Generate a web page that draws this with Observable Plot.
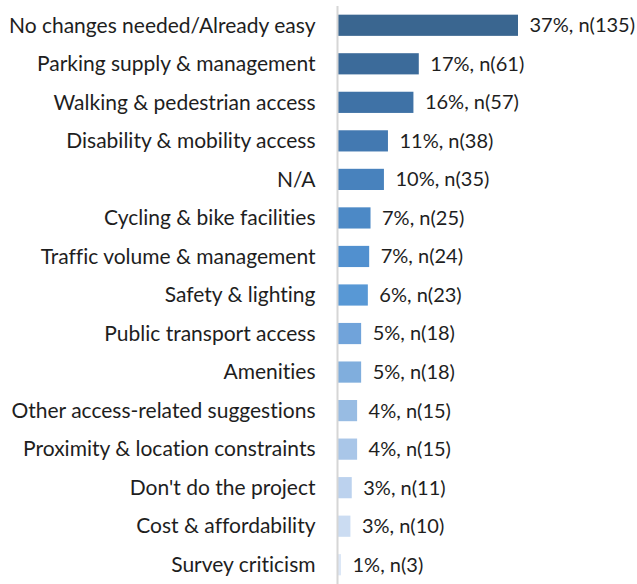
<!DOCTYPE html>
<html>
<head>
<meta charset="utf-8">
<script src="https://cdn.jsdelivr.net/npm/d3@7"></script>
<script src="https://cdn.jsdelivr.net/npm/@observablehq/plot@0.6"></script>
<style>
  html, body { margin: 0; padding: 0; background: #fff; }
  #chart { width: 637px; height: 584px; }
</style>
</head>
<body>
<div id="chart"></div>
<script>
const categories = [
  "No changes needed/Already easy",
  "Parking supply & management",
  "Walking & pedestrian access",
  "Disability & mobility access",
  "N/A",
  "Cycling & bike facilities",
  "Traffic volume & management",
  "Safety & lighting",
  "Public transport access",
  "Amenities",
  "Other access-related suggestions",
  "Proximity & location constraints",
  "Don't do the project",
  "Cost & affordability",
  "Survey criticism"
];
const percents = [37, 17, 16, 11, 10, 7, 7, 6, 5, 5, 4, 4, 3, 3, 1];
const counts = [135, 61, 57, 38, 35, 25, 24, 23, 18, 18, 15, 15, 11, 10, 3];
const barColors = [
  "#3a6690", "#3c6b9a", "#3f72a6", "#4379b1", "#4882bd", "#4c89c6",
  "#5190cf", "#5898d5", "#70a3da", "#80aedd", "#98bce3", "#a9c6e8",
  "#bcd2ee", "#cbdcf2", "#dce7f6"
];

const data = categories.map((c, i) => ({
  category: c,
  pct: percents[i],
  n: counts[i],
  color: barColors[i],
  label: `${percents[i]}%, n(${counts[i]})`
}));

const chart = Plot.plot({
  width: 637,
  height: 584,
  marginTop: 6,
  marginBottom: 0,
  marginLeft: 337,
  marginRight: 119,
  style: { fontFamily: "Lato, 'Open Sans', sans-serif", fontSize: "21px", color: "#1e1e1e", fontVariantLigatures: "none" },
  x: { domain: [0, 135], axis: null },
  y: { domain: categories, round: false, paddingInner: 0.45, paddingOuter: 0.225, label: null, tickSize: 0, tickPadding: 22 },
  marks: [
    Plot.barX(data, { x: "n", y: "category", fill: "color" }),
    Plot.ruleX([0], { stroke: "#d6d6d6", strokeWidth: 2 }),
    Plot.text(data, { x: "n", y: "category", text: "label", textAnchor: "start", dx: 11, fill: "#1e1e1e", fontSize: 20 })
  ]
});
document.getElementById("chart").appendChild(chart);
</script>
</body>
</html>
